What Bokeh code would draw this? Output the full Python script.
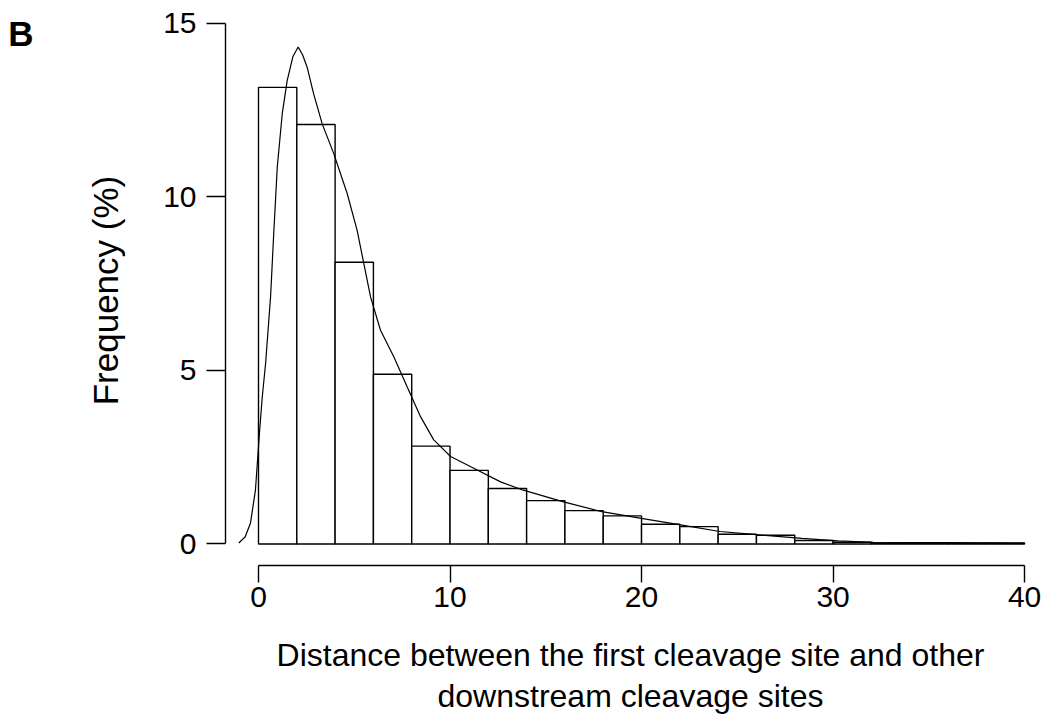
from bokeh.plotting import figure
from bokeh.models import FixedTicker, Range1d, Title, LinearAxis, CustomJSTickFormatter
from bokeh.embed import file_html
from bokeh.resources import INLINE

# Histogram: bins of width 2 from 0 to 40, frequency (%)
bin_left = [0, 2, 4, 6, 8, 10, 12, 14, 16, 18, 20, 22, 24, 26, 28, 30, 32, 34, 36, 38]
bin_right = [2, 4, 6, 8, 10, 12, 14, 16, 18, 20, 22, 24, 26, 28, 30, 32, 34, 36, 38, 40]
freq = [13.16, 12.09, 8.12, 4.89, 2.82, 2.12, 1.60, 1.25, 0.96, 0.81,
        0.57, 0.50, 0.28, 0.25, 0.10, 0.05, 0.03, 0.02, 0.02, 0.03]

# Density curve
dens_x = [-1.03, -0.7, -0.42, -0.16, 0.05, 0.19, 0.37, 0.63, 0.8, 0.98, 1.24, 1.5, 1.8,
          2.07, 2.3, 2.54, 2.88, 3.33, 3.93, 4.63, 5.15, 5.5, 5.85, 6.37, 7.07, 7.76,
          8.46, 9.15, 10.03, 11.24, 12.64, 13.83, 15.88, 17.93, 19.99, 22.04, 24.09,
          26.14, 28.38, 30.25, 32.1, 35.85, 38.0, 40.0]
dens_y = [0.03, 0.2, 0.6, 1.55, 3.2, 4.2, 5.2, 7.12, 9.0, 10.86, 12.4, 13.36, 14.05,
          14.32, 14.1, 13.74, 12.97, 12.1, 11.25, 10.1, 9.04, 8.08, 7.12, 6.16, 5.39,
          4.53, 3.67, 3.0, 2.52, 2.18, 1.79, 1.55, 1.22, 0.93, 0.74, 0.55, 0.36,
          0.26, 0.16, 0.09, 0.05, 0.04, 0.03, 0.02]

x_ticks = [0, 10, 20, 30, 40]
y_ticks = [0, 5, 10, 15]
panel_tag = "B"
panel_tag_pos = [14.70]
x_title = ["Distance between the first cleavage site and other",
           "downstream cleavage sites"]
y_title = "Frequency (%)"

FONT = "Liberation Sans"

p = figure(width=1047, height=716, output_backend="svg", toolbar_location=None,
           x_range=Range1d(-1.723, 40.57), y_range=Range1d(-0.62, 15.23),
           min_border_left=225, min_border_top=15, min_border_right=12,
           min_border_bottom=151)
p.outline_line_color = None
p.grid.visible = False
p.background_fill_color = "white"
p.border_fill_color = "white"

p.quad(left=bin_left, right=bin_right, top=freq, bottom=0,
       fill_color="white", line_color="black", line_width=1.4)
p.line(dens_x, dens_y, line_color="black", line_width=1.2)

# axes
for ax, ticks, bounds, tout, stand in ((p.xaxis[0], x_ticks, (0, 40), 17, 4),
                                        (p.yaxis[0], y_ticks, (0, 15), 19, 10)):
    ax.ticker = FixedTicker(ticks=ticks)
    ax.bounds = bounds
    ax.major_tick_out = tout
    ax.major_tick_in = 0
    ax.minor_tick_line_color = None
    ax.axis_line_color = "black"
    ax.axis_line_width = 1.4
    ax.major_tick_line_color = "black"
    ax.major_tick_line_width = 1.4
    ax.major_label_text_font = FONT
    ax.major_label_text_font_size = "30px"
    ax.major_label_text_color = "black"
    ax.major_label_standoff = stand
    ax.axis_label_text_font = FONT
    ax.axis_label_text_font_style = "normal"
    ax.axis_label_text_color = "black"

p.yaxis[0].axis_label = y_title
p.yaxis[0].axis_label_text_font_size = "35px"
p.yaxis[0].axis_label_standoff = 35

# first line of the x title as the axis label, second line as a title below it
p.xaxis[0].axis_label = x_title[0]
p.xaxis[0].axis_label_text_font_size = "32px"
p.xaxis[0].axis_label_standoff = 27
p.add_layout(Title(text=x_title[1], align="center", standoff=0, text_font=FONT,
                   text_font_size="32px", text_font_style="normal",
                   text_color="black"), "below")

# panel tag "B" placed in the left margin
tag_axis = LinearAxis(ticker=FixedTicker(ticks=panel_tag_pos),
                      formatter=CustomJSTickFormatter(code="return '%s'" % panel_tag))
tag_axis.axis_line_color = None
tag_axis.major_tick_line_color = None
tag_axis.minor_tick_line_color = None
tag_axis.major_tick_out = 0
tag_axis.major_tick_in = 0
tag_axis.major_label_standoff = 50
tag_axis.major_label_text_font = FONT
tag_axis.major_label_text_font_size = "35px"
tag_axis.major_label_text_font_style = "bold"
tag_axis.major_label_text_color = "black"
p.add_layout(tag_axis, "left")

open("out.html", "w").write(file_html(p, INLINE))
